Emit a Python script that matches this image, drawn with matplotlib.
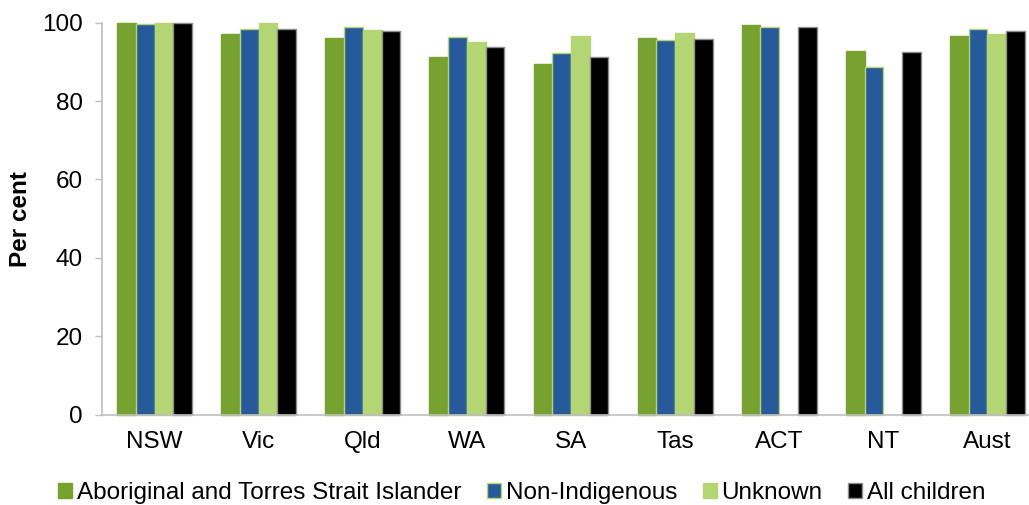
import matplotlib.pyplot as plt
import numpy as np

plt.rcParams['font.family'] = ['Liberation Sans', 'DejaVu Sans']

states = ["NSW", "Vic", "Qld", "WA", "SA", "Tas", "ACT", "NT", "Aust"]
series_names = ["Aboriginal and Torres Strait Islander", "Non-Indigenous", "Unknown", "All children"]
atsi = [99.9, 97.1, 96.2, 91.3, 89.4, 96.2, 99.4, 92.9, 96.6]
non_indig = [99.6, 98.5, 98.8, 96.4, 92.4, 95.5, 98.8, 88.7, 98.4]
unknown = [100.0, 100.0, 98.2, 95.0, 96.6, 97.4, np.nan, np.nan, 97.1]  # no data for ACT, NT
all_children = [99.9, 98.3, 97.8, 93.8, 91.3, 95.8, 99.0, 92.5, 97.8]

colors = ['#78A22F', '#265A9A', '#B3D573', '#000000']
edges = ['#78A22F', '#B3D573', '#B3D573', '#8C8C8C']

fig = plt.figure(figsize=(10.29, 5.05), dpi=100)
ax = fig.add_axes([0.0996, 0.1792, 0.9106, 0.7758])

x = np.arange(len(states))
w = 0.18
values = [atsi, non_indig, unknown, all_children]
bars = []
for i, vals in enumerate(values):
    b = ax.bar(x + (i - 1.5) * w, vals, w, color=colors[i], edgecolor=edges[i],
               linewidth=1.0, label=series_names[i], clip_on=False)
    bars.append(b)

ax.set_xlim(-0.5, len(states) - 0.5)
ax.set_ylim(0, 100)
ax.set_yticks(range(0, 101, 20))
ax.set_xticks(x)
ax.set_xticklabels(states)
ax.tick_params(axis='x', length=0, pad=12, labelsize=17.5)
ax.tick_params(axis='y', length=5, width=1, color='#BFBFBF', pad=9, labelsize=17.5)
for s in ['top', 'right']:
    ax.spines[s].set_visible(False)
for s in ['left', 'bottom']:
    ax.spines[s].set_color('#BFBFBF')
    ax.spines[s].set_linewidth(1.2)

fig.text(0.0204, 0.567, "Per cent", rotation=90, ha='center', va='center',
         fontsize=17.5, fontweight='bold')

fig.legend(handles=bars, labels=series_names, loc='center', ncol=4,
           bbox_to_anchor=(0.507, 0.024), frameon=False, fontsize=17.5,
           handlelength=0.58, handleheight=0.58, handletextpad=0.2,
           columnspacing=1.05, borderpad=0, borderaxespad=0)

plt.savefig("out.png", dpi=100)
